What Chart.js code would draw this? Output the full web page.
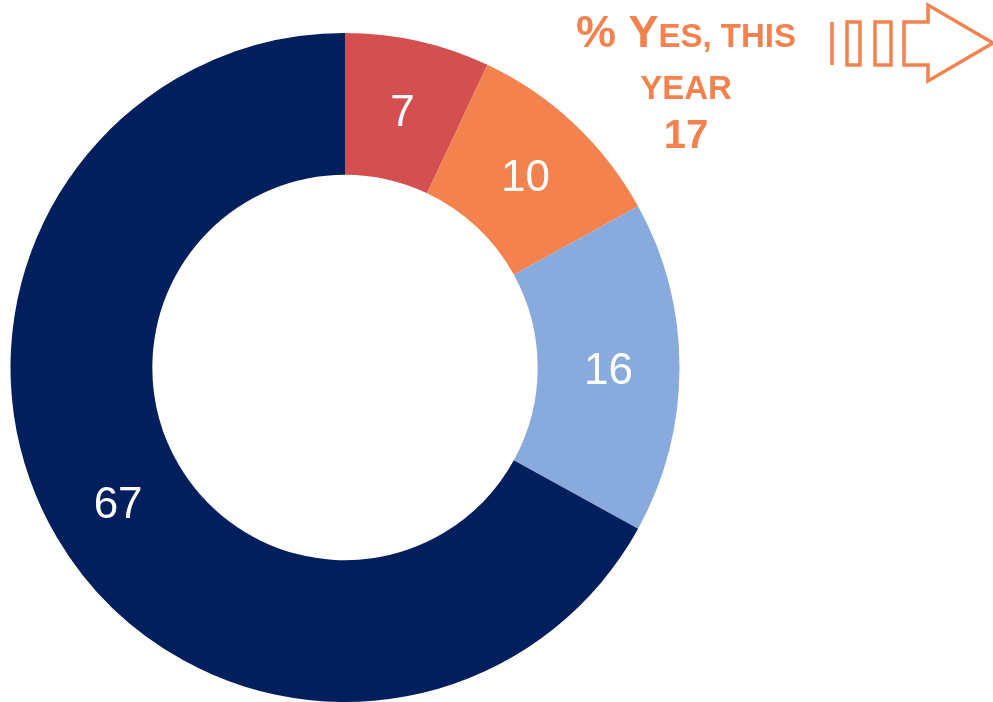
<!DOCTYPE html>
<html>
<head>
<meta charset="utf-8">
<style>
  html, body { margin: 0; padding: 0; background: #ffffff; }
  #wrap { position: relative; width: 993px; height: 702px; }
</style>
<script src="https://cdn.jsdelivr.net/npm/chart.js@4/dist/chart.umd.min.js"></script>
</head>
<body>
<div id="wrap"><canvas id="chart" width="993" height="702"></canvas></div>
<script>
// Ring segments, clockwise from 12 o'clock
const categories = ['Yes, already', 'Yes, this year', 'Maybe later', 'No'];
const shares = [7, 10, 16, 67];
const segmentColors = ['#D44F4F', '#F4824E', '#88AADC', '#001F5C'];
// Segments that make up the "yes, this year" callout
const yesIndexes = [0, 1];
const accent = '#F4824E';

const yesTotal = yesIndexes.reduce((s, i) => s + shares[i], 0);

const sliceLabels = {
  id: 'sliceLabels',
  afterDatasetsDraw(chart) {
    const ctx = chart.ctx;
    const meta = chart.getDatasetMeta(0);
    ctx.save();
    ctx.fillStyle = '#ffffff';
    ctx.font = '44px "Liberation Sans", Arial, sans-serif';
    ctx.textAlign = 'center';
    ctx.textBaseline = 'middle';
    meta.data.forEach((arc, i) => {
      const p = arc.tooltipPosition();
      ctx.fillText(String(shares[i]), p.x, p.y + 4);
    });
    ctx.restore();
  }
};

const callout = {
  id: 'callout',
  afterDraw(chart) {
    const ctx = chart.ctx;
    const cx = 686;
    const family = '"Liberation Sans", Arial, sans-serif';
    ctx.save();
    ctx.fillStyle = accent;
    ctx.textBaseline = 'alphabetic';

    // Line 1: small-caps heading
    const bigFont = 'bold 45px ' + family;
    const smallFont = 'bold 33px ' + family;
    const parts = [['% Y', bigFont], ['ES, THIS', smallFont]];
    let total = 0;
    parts.forEach(([t, f]) => { ctx.font = f; total += ctx.measureText(t).width; });
    let x = cx - total / 2;
    ctx.textAlign = 'left';
    parts.forEach(([t, f]) => {
      ctx.font = f;
      ctx.fillText(t, x, 47);
      x += ctx.measureText(t).width;
    });

    ctx.textAlign = 'center';
    ctx.font = smallFont;
    ctx.fillText('YEAR', cx, 99);
    ctx.font = 'bold 40px ' + family;
    ctx.fillText(String(yesTotal), cx, 148);

    // Arrow icon
    ctx.strokeStyle = accent;
    ctx.lineWidth = 3.5;
    ctx.lineJoin = 'miter';
    ctx.beginPath();
    ctx.moveTo(832, 22); ctx.lineTo(832, 65);
    ctx.stroke();
    ctx.strokeRect(847, 22, 13, 43);
    ctx.strokeRect(875, 22, 16, 43);
    ctx.beginPath();
    ctx.moveTo(904, 22);
    ctx.lineTo(928, 22);
    ctx.lineTo(928, 5);
    ctx.lineTo(993, 43);
    ctx.lineTo(928, 81);
    ctx.lineTo(928, 65);
    ctx.lineTo(904, 65);
    ctx.closePath();
    ctx.stroke();
    ctx.restore();
  }
};

new Chart(document.getElementById('chart'), {
  type: 'doughnut',
  data: {
    labels: categories,
    datasets: [{
      data: shares,
      backgroundColor: segmentColors,
      borderWidth: 0
    }]
  },
  options: {
    responsive: false,
    animation: false,
    cutout: '57.6%',
    layout: { padding: { left: 10, top: 33, right: 313, bottom: 0 } },
    plugins: {
      legend: { display: false },
      tooltip: { enabled: false }
    }
  },
  plugins: [sliceLabels, callout]
});
</script>
</body>
</html>
